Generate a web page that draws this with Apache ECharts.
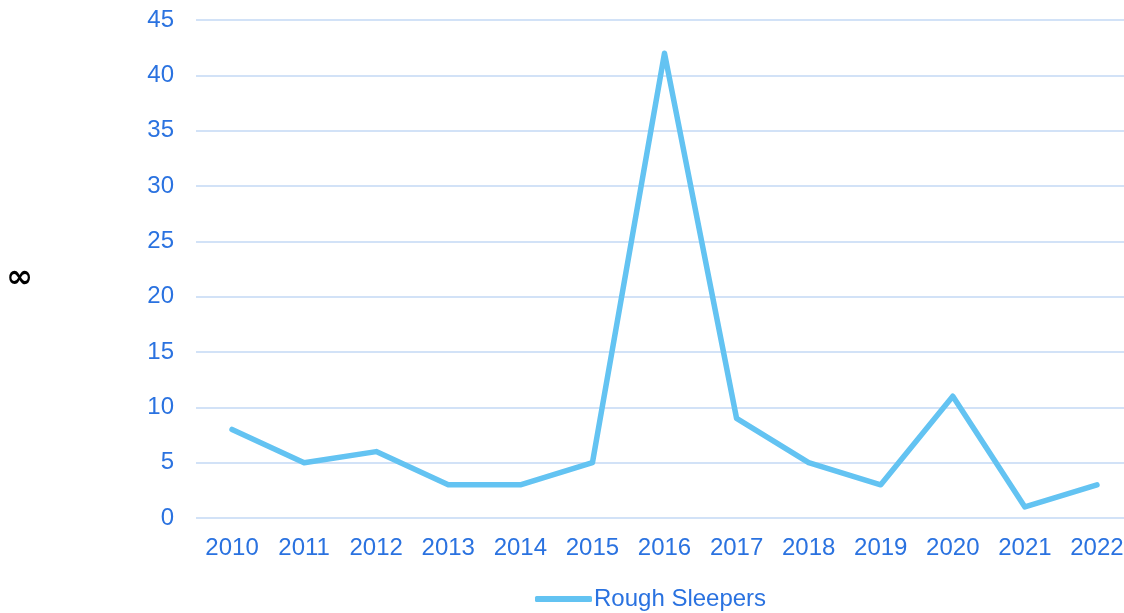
<!DOCTYPE html>
<html><head><meta charset="utf-8">
<script src="https://cdn.jsdelivr.net/npm/echarts@6/dist/echarts.min.js"></script>
<style>html,body{margin:0;padding:0;background:#fff}#c{width:1124px;height:613px}</style>
</head><body><div id="c"></div>
<script>
const categories = ['2010','2011','2012','2013','2014','2015','2016','2017','2018','2019','2020','2021','2022'];
const roughSleepers = [8,5,6,3,3,5,42,9,5,3,11,1,3];
const seriesName = 'Rough Sleepers';
const yName = '∞';
const chart = echarts.init(document.getElementById('c'));
const blue = '#2a72e0';
chart.setOption({
  animation: false,
  textStyle: { fontFamily: 'Liberation Sans, Arial, sans-serif' },
  grid: { left: 196, right: -9, top: 20, bottom: 95, containLabel: false, outerBoundsMode: 'none' },
  legend: {
    bottom: -3, left: 530, itemWidth: 57, itemHeight: 6, itemGap: 4,
    textStyle: { color: blue, fontSize: 24, padding: [0,0,0,-3] },
    icon: 'roundRect'
  },
  xAxis: {
    type: 'category', data: categories, boundaryGap: true,
    axisLine: { show: false }, axisTick: { show: false },
    axisLabel: { color: blue, fontSize: 24, margin: 18 }
  },
  yAxis: {
    type: 'value', min: 0, max: 45, interval: 5,
    name: yName, nameLocation: 'middle', nameRotate: 0, nameGap: 163,
    nameTextStyle: { color: '#000', fontSize: 32, fontWeight: 'bold', fontFamily: 'DejaVu Sans', verticalAlign: 'top', lineHeight: 20 },
    axisLabel: { color: blue, fontSize: 24, margin: 22 },
    splitLine: { lineStyle: { color: '#d2e2f7', width: 2 } }
  },
  series: [{
    name: seriesName, type: 'line', data: roughSleepers,
    symbol: 'none', lineStyle: { color: '#63c3f2', width: 5.5, cap: 'round', join: 'round' },
    itemStyle: { color: '#63c3f2' }
  }]
});
</script></body></html>
